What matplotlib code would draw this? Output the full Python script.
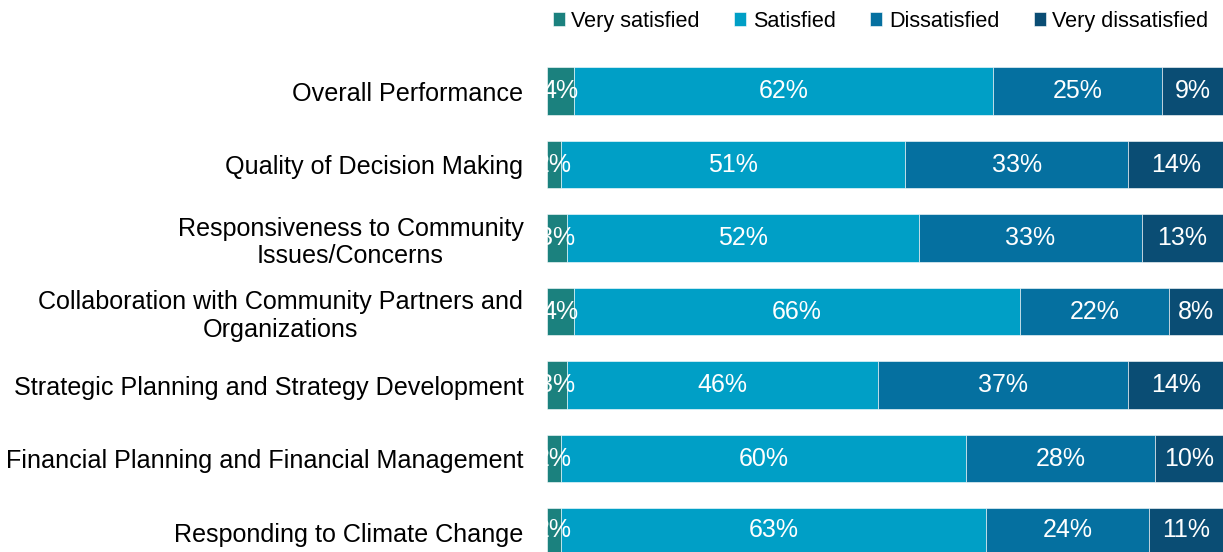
import numpy as np
import matplotlib.pyplot as plt

plt.rcParams['font.family'] = ['Liberation Sans', 'DejaVu Sans']

categories = [
    "Overall Performance",
    "Quality of Decision Making",
    "Responsiveness to Community\nIssues/Concerns",
    "Collaboration with Community Partners and\nOrganizations",
    "Strategic Planning and Strategy Development",
    "Financial Planning and Financial Management",
    "Responding to Climate Change",
]
very_satisfied = [4, 2, 3, 4, 3, 2, 2]
satisfied = [62, 51, 52, 66, 46, 60, 63]
dissatisfied = [25, 33, 33, 22, 37, 28, 24]
very_dissatisfied = [9, 14, 13, 8, 14, 10, 11]

series = [
    ("Very satisfied", very_satisfied, "#1b817e"),
    ("Satisfied", satisfied, "#009fc6"),
    ("Dissatisfied", dissatisfied, "#0570a0"),
    ("Very dissatisfied", very_dissatisfied, "#0a4d74"),
]

fig = plt.figure(figsize=(12.23, 5.52), dpi=100)
ax = fig.add_axes([547 / 1223, 0, 676 / 1223, 502 / 552])

y = np.arange(len(categories))
left = np.zeros(len(categories))
for name, vals, color in series:
    bars = ax.barh(y, vals, left=left, height=0.64, color=color, label=name,
                   edgecolor="white", linewidth=0.4)
    labels = ax.bar_label(bars, labels=[f"{v}%" for v in vals], label_type="center",
                          color="white", fontsize=18)
    for t in labels:
        t.set_clip_on(True)
    left += np.array(vals)

ax.set_xlim(0, 100)
ax.set_ylim(6.272, -0.558)
ax.set_yticks(y)
ax.set_yticklabels(categories, fontsize=18.1, multialignment="center")
ax.tick_params(axis="y", length=0, pad=17)
ax.set_xticks([])
for s in ax.spines.values():
    s.set_visible(False)

fig.legend(loc="upper right", bbox_to_anchor=(1.004, 1.016), ncol=4, frameon=False,
           fontsize=15.6, handlelength=0.55, handleheight=0.55, handletextpad=0.3,
           columnspacing=1.6)

fig.savefig("out.png", dpi=100)
